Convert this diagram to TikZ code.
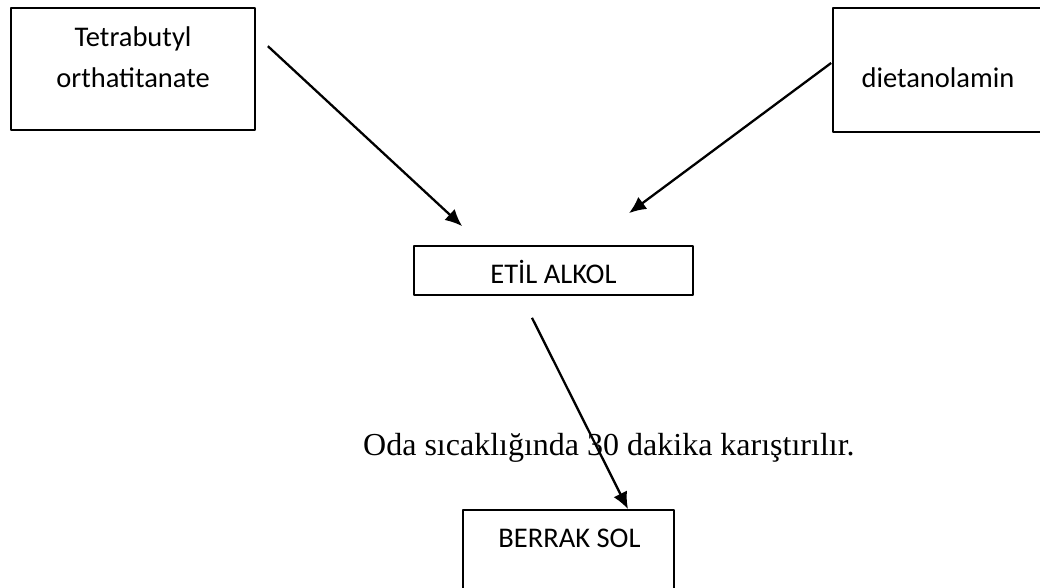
\documentclass[tikz,border=0pt]{standalone}
\usepackage{fontspec}
\setmainfont{Liberation Serif}
\newfontfamily\boxfont{Carlito}
\usetikzlibrary{arrows.meta,calc}
\tikzset{
  >={Latex[length=17pt,width=15pt]},
  stepbox/.style={draw,line width=1.7pt,inner sep=0pt},
  boxtext/.style={font=\boxfont\fontsize{28.5}{41}\selectfont,inner sep=0pt,
                  anchor=base},
  arrow/.style={->,line width=2.3pt}
}

\begin{document}
\begin{tikzpicture}[x=1pt,y=-1pt,line join=round]
  \useasboundingbox (0,0) rectangle (1040,588);
  \clip (0,0) rectangle (1040,588);

  % Starting materials
  \node[stepbox,minimum width=244pt,minimum height=122pt] (tba) at (133,69) {};
  \node[boxtext,text width=220pt,align=center] (tbalabel)
    at ($(tba.north)+(0,39)$) {Tetrabutyl\\orthatitanate};
  \node[stepbox,minimum width=210pt,minimum height=124pt] (dea) at (938,70) {};
  \node[boxtext] (dealabel) at ($(dea.north)+(0,80)$) {dietanolamin};

  % Solvent
  \node[stepbox,minimum width=279pt,minimum height=49pt] (etil) at (553.5,270.5) {};
  \node[boxtext] (etillabel) at ($(etil.center)+(0,12.5)$) {ETİL ALKOL};

  % Product
  \node[stepbox,minimum width=211pt,minimum height=100pt] (sol) at (568.5,560) {};
  \node[boxtext] (sollabel) at ($(sol.north)+(1,38)$) {BERRAK SOL};

  \node[anchor=base west,inner sep=0pt,font=\fontsize{32}{38}\selectfont]
    (mixnote) at (363,455) {Oda sıcaklığında 30 dakika karıştırılır.};

  % Connector ends
  \coordinate (tbaout) at ($(tba.north east)+(12,39)$);
  \coordinate (deaout) at ($(dea.west)+(-1,-7)$);
  \coordinate (etilinl) at ($(etil.north west)+(49,-19)$);
  \coordinate (etilinr) at ($(etil.north)+(75.5,-32)$);
  \coordinate (etilout) at ($(etil.south)+(-21.5,22)$);
  \coordinate (solin) at ($(sol.north)+(59.5,0)$);

  \draw[arrow] (tbaout)--(etilinl);
  \draw[arrow] (deaout)--(etilinr);
  \draw[arrow] (etilout)--(solin);
\end{tikzpicture}
\end{document}
